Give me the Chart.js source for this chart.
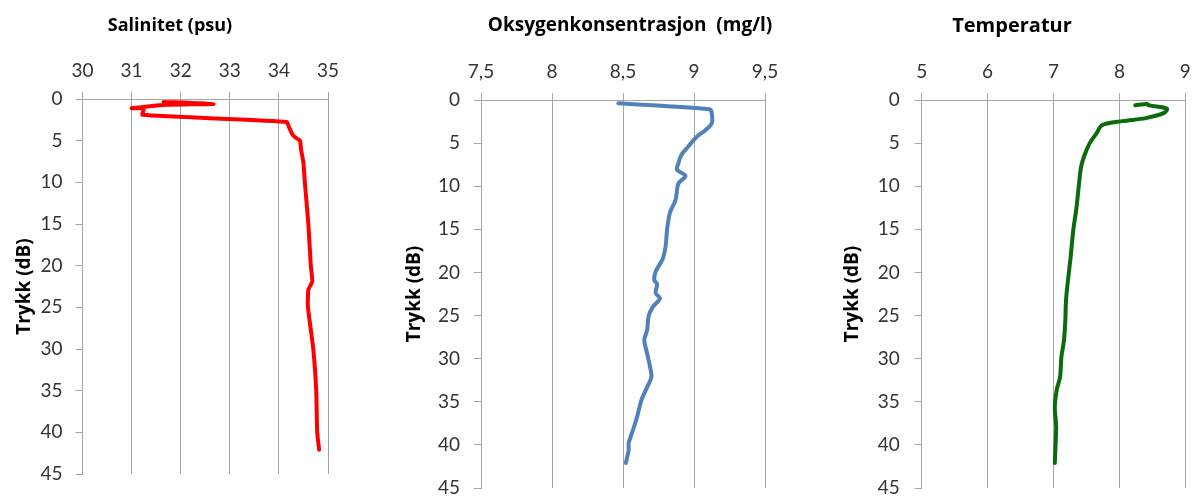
<!DOCTYPE html>
<html><head><meta charset="utf-8">
<script src="https://cdn.jsdelivr.net/npm/chart.js@4.4.1/dist/chart.umd.min.js"></script>
<style>
html,body{margin:0;padding:0;background:#fff;width:1197px;height:497px;overflow:hidden}
canvas{position:absolute;top:0}
</style></head><body>
<canvas id="c1" width="340" height="497" style="left:0px"></canvas>
<canvas id="c2" width="460" height="497" style="left:400px"></canvas>
<canvas id="c3" width="370" height="497" style="left:827px"></canvas>
<script>
// ---- data ----
const depthTicks = [0, 5, 10, 15, 20, 25, 30, 35, 40, 45];

const salinityTitle = 'Salinitet (psu)';
const salinityTicks = ['30', '31', '32', '33', '34', '35'];
const salinityDepth = [0.35, 0.6, 0.7, 1.1, 1.15, 1.9, 2.75, 3.3, 4.2, 4.6, 5.0, 6.0, 7.7, 10.1, 15, 20, 21.9, 22.9, 24.9, 30, 35, 40, 42.1];
const salinityValues = [31.65, 32.67, 31.7, 31.0, 31.25, 31.22, 34.16, 34.2, 34.27, 34.33, 34.43, 34.45, 34.5, 34.53, 34.6, 34.65, 34.68, 34.6, 34.59, 34.7, 34.76, 34.78, 34.82];

const oxygenTitle = 'Oksygenkonsentrasjon  (mg/l)';
const oxygenTicks = ['7,5', '8', '8,5', '9', '9,5'];
const oxygenDepth = [0.38, 1.08, 1.5, 2.7, 3.5, 4.25, 5.4, 6.4, 7.35, 8.1, 8.8, 9.7, 11.6, 13.1, 15.1, 17.0, 18.4, 19.9, 20.9, 21.3, 22.4, 23.0, 24.0, 25.1, 26.7, 27.8, 29.4, 30.9, 32.1, 33.3, 34.8, 36.7, 38.3, 39.8, 40.6, 42.1];
const oxygenValues = [8.467, 9.11, 9.125, 9.125, 9.08, 9.02, 8.96, 8.91, 8.89, 8.88, 8.94, 8.89, 8.87, 8.83, 8.81, 8.80, 8.78, 8.73, 8.72, 8.74, 8.73, 8.76, 8.71, 8.68, 8.67, 8.65, 8.67, 8.69, 8.70, 8.67, 8.63, 8.60, 8.57, 8.54, 8.54, 8.52];

const tempTitle = 'Temperatur';
const tempTicks = ['5', '6', '7', '8', '9'];
const tempDepth = [0.6, 0.45, 0.62, 1.0, 1.5, 2.1, 2.45, 2.9, 3.9, 5.0, 6.2, 7.7, 9.5, 12.4, 15.1, 18.2, 20.9, 23.2, 25.5, 27.8, 29.8, 32.1, 33.6, 35.6, 37.9, 40.2, 42.1];
const tempValues = [8.24, 8.42, 8.45, 8.72, 8.68, 8.4, 8.05, 7.74, 7.65, 7.55, 7.48, 7.42, 7.39, 7.35, 7.30, 7.26, 7.22, 7.19, 7.18, 7.16, 7.12, 7.10, 7.05, 7.02, 7.04, 7.03, 7.02];

const yTitle = 'Trykk (dB)';

// ---- drawing ----
const TICK_FONT = 'Lato, "Open Sans", sans-serif';
const TITLE_FONT = '"Open Sans", Lato, sans-serif';
const GRID = '#a6a6a6';

function makePanel(id, title, xs, ys, xTickLabels, color, L) {
  const xMin = parseFloat(xTickLabels[0].replace(',', '.'));
  const xMax = parseFloat(xTickLabels[xTickLabels.length - 1].replace(',', '.'));
  const step = (xMax - xMin) / (xTickLabels.length - 1);
  const pts = xs.map((v, i) => ({x: v, y: ys[i]}));
  const titleCenter = 26;
  const titlePadTop = titleCenter - L.titleSize * 0.6;
  const titleH = titlePadTop + L.titleSize * 1.2;
  new Chart(document.getElementById(id), {
    type: 'scatter',
    data: {datasets: [{
      data: pts, showLine: true, borderColor: color, backgroundColor: color,
      borderWidth: 4, pointRadius: 0, tension: L.tension,
      borderCapStyle: 'round', borderJoinStyle: 'round'
    }]},
    options: {
      responsive: false, animation: false, events: [],
      layout: {padding: {left: 0, top: 0, right: 0, bottom: L.padBottom}},
      plugins: {
        legend: {display: false}, tooltip: {enabled: false},
        title: {display: true, text: title, color: '#000',
          font: {family: TITLE_FONT, size: L.titleSize, weight: 'bold', lineHeight: 1.2},
          padding: {top: titlePadTop, bottom: 0}}
      },
      scales: {
        x: {
          type: 'linear', position: 'top', min: xMin, max: xMax,
          ticks: {stepSize: step, color: '#333', padding: 10,
            font: {family: TICK_FONT, size: 19},
            callback: (v) => {
              const i = Math.round((v - xMin) / step);
              return xTickLabels[i];
            }},
          grid: {color: GRID, lineWidth: 1, tickLength: 7, drawOnChartArea: true},
          border: {color: GRID},
          afterFit: (s) => { s.height = L.plotTop - titleH; s.paddingLeft = 0; s.paddingRight = 0; }
        },
        y: {
          type: 'linear', position: 'left', reverse: true, min: 0, max: 45,
          afterBuildTicks: (s) => { s.ticks = depthTicks.map(v => ({value: v})); },
          ticks: {color: '#333', padding: L.yPad, font: {family: TICK_FONT, size: 19}},
          grid: {color: GRID, lineWidth: 1, tickLength: 7, drawOnChartArea: false},
          border: {color: GRID},
          title: {display: true, text: yTitle, color: '#000',
            font: {family: TITLE_FONT, size: 19, weight: 'bold', lineHeight: 1.2}, padding: {top: L.yTitlePad, bottom: 0}},
          afterFit: (s) => { s.width = L.plotLeft; s.paddingTop = 0; s.paddingBottom = 0; }
        },
        spacer: {
          type: 'linear', position: 'right', display: true,
          ticks: {display: false}, grid: {display: false, drawTicks: false}, border: {display: false},
          afterFit: (s) => { s.width = L.padRight; s.paddingTop = 0; s.paddingBottom = 0; }
        }
      }
    }
  });
}

makePanel('c1', salinityTitle, salinityValues, salinityDepth, salinityTicks, '#ff0000',
  {plotLeft: 82.5, plotTop: 99, padRight: 12, padBottom: 23, yPad: 13, yTitlePad: 13, tension: 0.15, titleSize: 18});
makePanel('c2', oxygenTitle, oxygenValues, oxygenDepth, oxygenTicks, '#4f81bd',
  {plotLeft: 81, plotTop: 100, padRight: 95, padBottom: 9, yPad: 14, yTitlePad: 3, tension: 0.3, titleSize: 19});
makePanel('c3', tempTitle, tempValues, tempDepth, tempTicks, '#0b6b0b',
  {plotLeft: 94.7, plotTop: 100, padRight: 11.7, padBottom: 9, yPad: 15, yTitlePad: 14, tension: 0.3, titleSize: 20});
</script>
</body></html>
